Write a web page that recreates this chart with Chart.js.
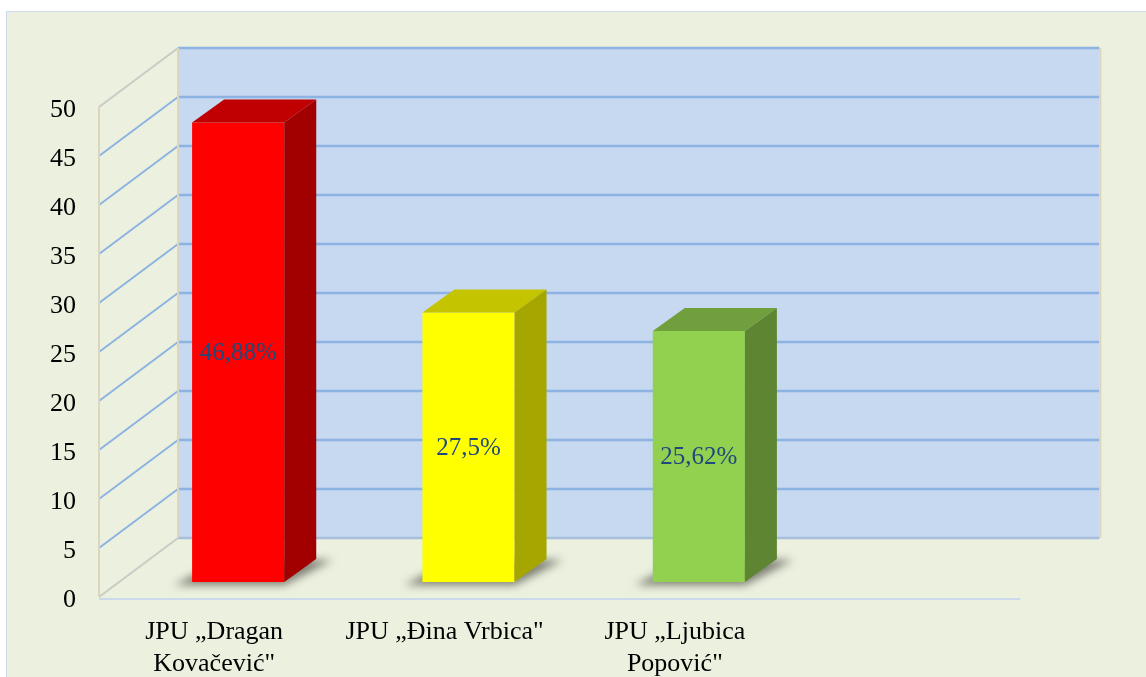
<!DOCTYPE html>
<html lang="sr">
<head>
<meta charset="UTF-8">
<title>JPU - udio</title>
<script src="https://cdn.jsdelivr.net/npm/chart.js"></script>
<style>
  html, body { margin: 0; padding: 0; background: #fff; }
  #frame {
    position: absolute; left: 6px; top: 11px; width: 1160px; height: 700px;
    background: #EBF0DF; border: 1px solid #CCDCEE;
  }
  #chart { position: absolute; left: 0; top: 0; }
</style>
</head>
<body>
<div id="frame"></div>
<canvas id="chart" width="1146" height="677"></canvas>

<script>
// data
var categories = [['JPU \u201EDragan', 'Kova\u010Devi\u0107"'], 'JPU \u201E\u0110ina Vrbica"', ['JPU \u201ELjubica', 'Popovi\u0107"']];
var shares = [46.88, 27.5, 25.62];
var shareLabels = ['46,88%', '27,5%', '25,62%'];
var yMax = 50;
var yStep = 5;

var frontColors = ['#FF0000', '#FFFF00', '#92D050'];
var topColors = ['#C00000', '#C4C400', '#719F3D'];
var sideColors = ['#A20000', '#A6A600', '#5E8632'];

// oblique offsets
var wallDX = 79, wallDY = -59;     // back wall vs front plane
var barDX = 24, barDY = -15;       // bar front face sits a bit into the depth
var depthX = 32, depthY = -23;     // bar depth

var serif = '"Liberation Serif", "Times New Roman", serif';

var walls = {
  id: 'walls',
  beforeDatasetsDraw: function (chart) {
    var ctx = chart.ctx, a = chart.chartArea, y = chart.scales.y;
    var catW = a.width / categories.length;
    var right = a.left + catW * 4; // floor runs one empty slot past the last bar
    ctx.save();
    // back wall
    ctx.fillStyle = '#C6D9F0';
    ctx.fillRect(a.left + wallDX, a.top + wallDY, right - a.left, a.bottom - a.top);

    // grid lines
    for (var v = 0; v <= yMax; v += yStep) {
      var py = y.getPixelForValue(v);
      ctx.beginPath();
      ctx.moveTo(a.left, py);
      ctx.lineTo(a.left + wallDX, py + wallDY);
      ctx.lineWidth = 2;
      ctx.strokeStyle = (v === 0 || v === yMax) ? '#C9CBC4' : '#8DB3E2';
      ctx.stroke();

      ctx.beginPath();
      ctx.moveTo(a.left + wallDX, py + wallDY);
      ctx.lineTo(right + wallDX, py + wallDY);
      ctx.lineWidth = 2.5;
      ctx.strokeStyle = v === 0 ? '#A7BFDC' : '#8DB3E2';
      ctx.stroke();
    }

    // wall edges
    ctx.strokeStyle = '#DCD6BE';
    ctx.lineWidth = 2;
    ctx.beginPath();
    ctx.moveTo(a.left, a.top); ctx.lineTo(a.left, a.bottom);
    ctx.moveTo(a.left + wallDX, a.top + wallDY); ctx.lineTo(a.left + wallDX, a.bottom + wallDY);
    ctx.moveTo(right + wallDX + 1, a.top + wallDY); ctx.lineTo(right + wallDX + 1, a.bottom + wallDY);
    ctx.stroke();

    // floor front edge
    ctx.strokeStyle = '#CADAEC';
    ctx.lineWidth = 2;
    ctx.beginPath();
    ctx.moveTo(a.left, a.bottom + 2); ctx.lineTo(right, a.bottom + 2);
    ctx.stroke();

    // soft shadows on the floor
    var meta = chart.getDatasetMeta(0);
    ctx.filter = 'blur(4px)';
    ctx.fillStyle = 'rgba(50,50,40,0.6)';
    meta.data.forEach(function (bar) {
      var l = bar.x - bar.width / 2 + barDX, r = bar.x + bar.width / 2 + barDX, b = bar.base + barDY;
      ctx.beginPath();
      ctx.moveTo(l - 18, b + 3);
      ctx.lineTo(r, b + 3);
      ctx.lineTo(r + depthX + 16, b + depthY + 1);
      ctx.lineTo(l + depthX, b + depthY + 1);
      ctx.closePath();
      ctx.fill();
    });
    ctx.filter = 'none';
    ctx.restore();

    // shift bars into depth
    ctx.save();
    ctx.translate(barDX, barDY);
  },
  afterDatasetsDraw: function (chart) {
    var ctx = chart.ctx;
    var meta = chart.getDatasetMeta(0);
    meta.data.forEach(function (bar, i) {
      var l = bar.x - bar.width / 2, r = bar.x + bar.width / 2, t = bar.y, b = bar.base;
      ctx.fillStyle = topColors[i];
      ctx.beginPath();
      ctx.moveTo(l, t); ctx.lineTo(r, t);
      ctx.lineTo(r + depthX, t + depthY); ctx.lineTo(l + depthX, t + depthY);
      ctx.closePath(); ctx.fill();

      ctx.fillStyle = sideColors[i];
      ctx.beginPath();
      ctx.moveTo(r, t); ctx.lineTo(r + depthX, t + depthY);
      ctx.lineTo(r + depthX, b + depthY); ctx.lineTo(r, b);
      ctx.closePath(); ctx.fill();

      ctx.fillStyle = '#1F497D';
      ctx.font = '25px ' + serif;
      ctx.textAlign = 'center';
      ctx.textBaseline = 'middle';
      ctx.fillText(shareLabels[i], bar.x, (t + b) / 2 + 1);
    });
    ctx.restore();
  }
};

new Chart(document.getElementById('chart'), {
  type: 'bar',
  data: {
    labels: categories,
    datasets: [{
      data: shares,
      backgroundColor: frontColors,
      borderWidth: 0,
      categoryPercentage: 1,
      barPercentage: 0.4,
      clip: false
    }]
  },
  options: {
    responsive: false,
    animation: false,
    layout: { padding: { top: 107, right: 356, left: 0, bottom: 0 } },
    plugins: { legend: { display: false }, tooltip: { enabled: false } },
    scales: {
      x: {
        grid: { display: false, drawTicks: false },
        border: { display: false },
        ticks: {
          color: '#000', font: { family: serif, size: 26 }, padding: 20,
          maxRotation: 0, autoSkip: false
        },
        afterFit: function (s) { s.height = 80; }
      },
      y: {
        min: 0, max: yMax,
        grid: { display: false, drawTicks: false },
        border: { display: false },
        ticks: { stepSize: yStep, color: '#000', font: { family: serif, size: 26 }, padding: 23, labelOffset: 3 },
        afterFit: function (s) { s.width = 99; }
      }
    }
  },
  plugins: [walls]
});
</script>
</body>
</html>
